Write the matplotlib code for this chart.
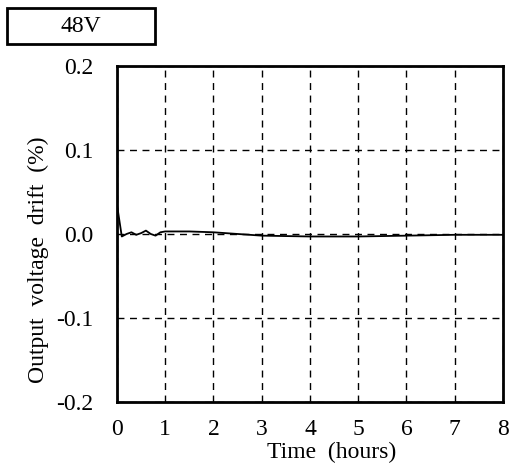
import numpy as np
import matplotlib
matplotlib.use("Agg")
import matplotlib.pyplot as plt
from matplotlib.patches import Rectangle

# data
time_h = [0.0, 0.1, 0.2, 0.3, 0.4, 0.5, 0.6, 0.7, 0.8, 0.9, 1.0, 1.5, 2.0, 2.5, 3.0, 4.0, 5.0, 6.0, 7.0, 8.0]
drift = [0.035, -0.003, 0.0, 0.002, -0.001, 0.001, 0.004, 0.0, -0.002, 0.002,
         0.003, 0.003, 0.002, 0.0, -0.002, -0.003, -0.003, -0.002, -0.001, -0.001]
xticks = list(range(0, 9))
yticks = [-0.2, -0.1, 0.0, 0.1, 0.2]
ytick_labels = ["-0.2", "-0.1", "0.0", "0.1", "0.2"]

plt.rcParams['font.family'] = ['Liberation Serif', 'DejaVu Serif']

fig = plt.figure(figsize=(5.13, 4.71), dpi=100)
ax = fig.add_axes([0.228, 0.1465, 0.7525, 0.7135])
ax.set_axisbelow(True)

ax.plot(time_h, drift, color='black', lw=1.3)
ax.set_xlim(0, 8)
ax.set_ylim(-0.2, 0.2)
ax.set_xticks(xticks)
ax.set_yticks(yticks)
ax.set_yticklabels(ytick_labels)
ax.tick_params(length=0, labelsize=17)
ax.tick_params(axis='x', pad=12)
ax.tick_params(axis='y', pad=17)
ax.grid(True, color='black', linestyle=(0, (5, 4)), lw=1.0)
for s in ax.spines.values():
    s.set_linewidth(2.0)
ax.set_xlabel('Time  (hours)', fontsize=17)
ax.xaxis.set_label_coords(0.557, -0.118)
ax.set_ylabel('Output  voltage  drift  (%)', fontsize=17)
ax.yaxis.set_label_coords(-0.176, 0.423)

# label box at top left
fig.add_artist(Rectangle((7 / 513, 1 - 44 / 471), 148 / 513, 36 / 471,
                         transform=fig.transFigure, fc='white', ec='black', lw=2))
fig.text(81 / 513, 1 - 27 / 471, '48V', fontsize=17, ha='center', va='center')

fig.savefig('out.png', dpi=100)
